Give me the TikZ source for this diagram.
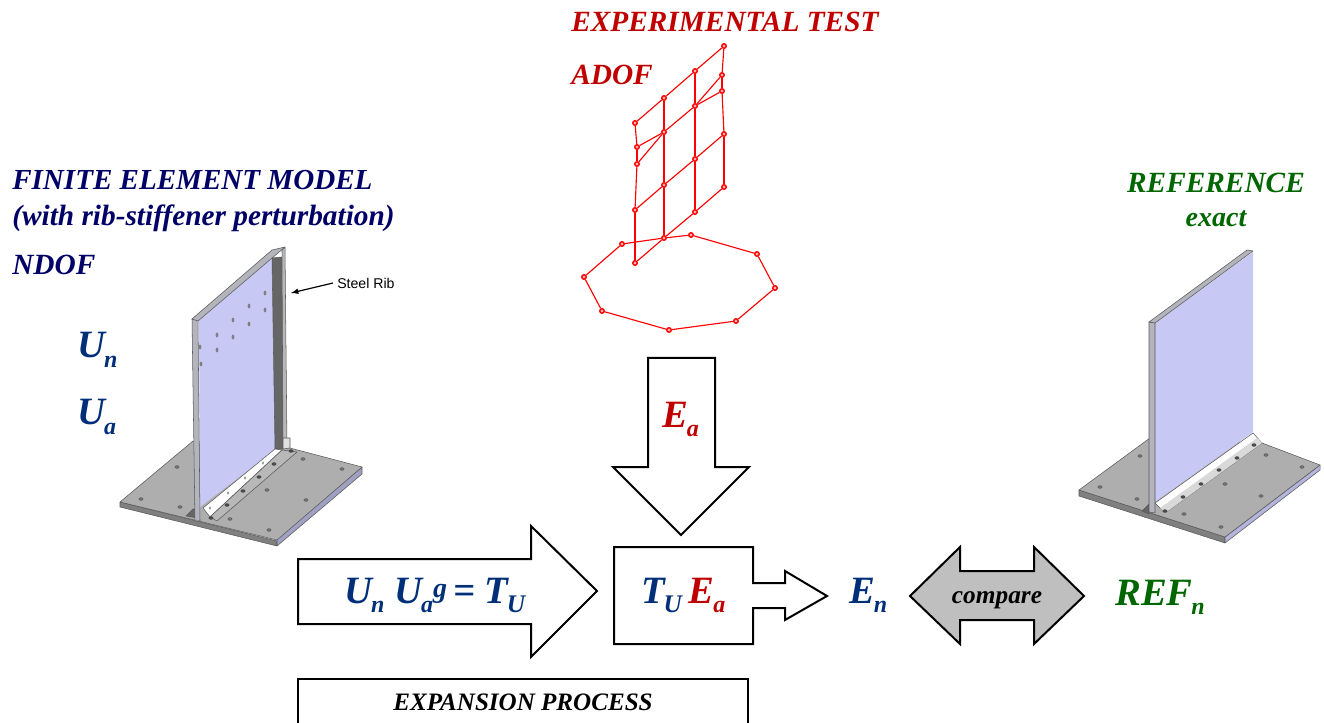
\documentclass[tikz,border=0pt]{standalone}
\usepackage{fontspec}
\setmainfont{Liberation Serif}
\newfontfamily\arialf{Liberation Sans}
\definecolor{navyt}{HTML}{000066}
\definecolor{blueu}{HTML}{002F7A}
\definecolor{redt}{HTML}{C00000}
\definecolor{greent}{HTML}{006600}
\definecolor{panel}{HTML}{C8C8F4}
\definecolor{plate}{HTML}{AEAEAE}
\definecolor{edgeg}{HTML}{B4B4BC}
\newcommand{\sz}[1]{\fontsize{#1}{#1}\selectfont}
\newcommand{\subs}[2]{\kern-0.03em\raisebox{-7pt}{\fontsize{#2}{#2}\selectfont #1}}
\tikzset{
  lab/.style={inner sep=0pt,font=\bfseries\itshape},
  labw/.style={lab,anchor=base west},
  labc/.style={lab,anchor=base},
  big/.style={labw,font=\bfseries\itshape\sz{29}},
  blockarrow/.style={draw=black,line width=1.5pt,fill=white,line join=miter},
  mp/.style={circle,draw=red,line width=1pt,fill=red!30,inner sep=0pt,minimum size=3.4pt},
  ml/.style={draw=red,line width=0.85pt},
  holept/.style={fill=black!55,draw=black!70,line width=0.2pt},
  boltpt/.style={fill=black!70,draw=black!80,line width=0.2pt},
  outl/.style={draw=black!65,line width=0.4pt,line join=round}
}
\begin{document}
\begin{tikzpicture}[x=0.75pt,y=-0.75pt]
\useasboundingbox (0,0) rectangle (1324,723);
% --- titles
\node[labw,text=redt,font=\bfseries\itshape\sz{22}] (t1) at (571,32) {EXPERIMENTAL TEST};
\node[labw,text=redt,font=\bfseries\itshape\sz{22}] (t2) at (571,85) {ADOF};
\node[labw,text=navyt,font=\bfseries\itshape\sz{21.8}] (t3) at (12,190) {FINITE ELEMENT MODEL};
\node[labw,text=navyt,font=\bfseries\itshape\sz{22}] (t4) at (12,226) {(with rib-stiffener perturbation)};
\node[labw,text=navyt,font=\bfseries\itshape\sz{22}] (t5) at (12,275) {NDOF};
\node[labc,text=greent,font=\bfseries\itshape\sz{22}] (t6) at (1216,193) {REFERENCE};
\node[labc,text=greent,font=\bfseries\itshape\sz{21}] (t7) at (1216,227) {exact};
\node[big,text=blueu] (un) at (77,358) {U\subs{n}{18}};
\node[big,text=blueu] (ua) at (77,425) {U\subs{a}{18}};
% --- left model
\fill[black!50,outl] (120,502) -- (120,507) -- (277,546) -- (277,541) -- cycle;
\fill[panel!80!black,outl] (277,546) -- (362,474) -- (362,467) -- (277,539) -- cycle;
\fill[plate,outl] (120,502) -- (193,441) -- (290,448) -- (362,467) -- (277,540) -- cycle;
\fill[panel] (199,320) -- (272,258) -- (275,450) -- (200,507) -- cycle;
\fill[black!60,outl] (186,516) -- (193,509) -- (197,509) -- (197,518) -- cycle;
\fill[edgeg,outl] (192,319) -- (198,319) -- (200,521) -- (195,521) -- cycle;
\fill[edgeg,outl] (192,319) -- (272,250) -- (285,247) -- (198,321) -- cycle;
\fill[black!60,outl] (272,258) -- (282,257) -- (283,449) -- (275,449) -- cycle;
\fill[black!28,outl] (282,250) -- (285,247) -- (287,447) -- (283,449) -- cycle;
\fill[black!12,outl] (283,438) -- (290,438) -- (290,448) -- (283,449) -- cycle;
\fill[white,outl] (203,508) -- (275,449) -- (282,450) -- (210,517) -- cycle;
\fill[black!28,outl] (210,517) -- (282,450) -- (297,452) -- (217,521) -- cycle;
\foreach \p in {(200,347),(201,364),(217,350),(217,335),(233,337),(233,320),(249,324),(249,306),(265,310),(265,293)}{
  \fill[black!50] \p ellipse (1.4 and 2.4);}
\foreach \p in {(177,467),(141,499),(180,507),(303,459),(342,469),(267,490),(306,500),(269,530),(230,519)}{
  \fill[holept] \p ellipse (2.2 and 1.4);}
\foreach \p in {(291,451),(274,464),(259,477),(243,491),(227,505),(211,518)}{
  \fill[boltpt] \p ellipse (2.2 and 1.4);}
\foreach \p in {(263,463),(245,478),(228,493),(210,508)}{
  \fill[black!40] \p ellipse (1.1 and 1.8);}
% --- right model
\fill[black!50,outl] (1079,490) -- (1079,496) -- (1225,543) -- (1225,537) -- cycle;
\fill[panel!90!black,outl] (1225,543) -- (1320,470) -- (1320,465) -- (1225,537) -- cycle;
\fill[plate,outl] (1079,490) -- (1150,438) -- (1262,443) -- (1320,465) -- (1225,537) -- cycle;
\fill[panel] (1155,323) -- (1253,252) -- (1253,432) -- (1155,502) -- cycle;
\fill[black!60,outl] (1142,511) -- (1149,504) -- (1149,514) -- cycle;
\fill[edgeg,outl] (1149,322) -- (1155,323) -- (1155,513) -- (1149,512) -- cycle;
\fill[edgeg,outl] (1149,322) -- (1247,250) -- (1253,251) -- (1155,323) -- cycle;
\fill[white,outl] (1155,503) -- (1253,433) -- (1262,443) -- (1165,513) -- cycle;
\fill[black!15] (1160,508) -- (1257,438) -- (1262,443) -- (1165,513) -- cycle;
\foreach \p in {(1140,456),(1100,487),(1137,499),(1266,455),(1302,467),(1225,484),(1261,496),(1184,514),(1221,527)}{
  \fill[holept] \p ellipse (2.2 and 1.4);}
\foreach \p in {(1165,511),(1183,497),(1201,484),(1219,470),(1237,458),(1254,445)}{
  \fill[boltpt] \p ellipse (2.2 and 1.4);}
% --- steel rib
\node[anchor=west,inner sep=0pt,font=\arialf\sz{10.6}] (rib) at (337,283) {Steel Rib};
\coordinate (ribtip) at (291,293);
\draw[-latex,line width=0.9pt] (rib.west) ++(-4,0) -- (ribtip);
% --- experimental mesh
\foreach \n/\x/\y in {a1/635/123,a2/664/98,a3/695/71,a4/724/46,b1/637/147,c1/637/164,d2/664/132,d3/695/106,b4/722/75,c4/722/91,
  e1/635/210,e2/664/185,e3/695/159,e4/724/134,f1/635/263,f2/664/238,f3/695/212,f4/724/187,
  g1/622/244,g2/584/277,g3/602/311,g4/669/330,g5/736/321,g6/775/288,g7/757/254,g8/691/235}{
  \node[mp] (\n) at (\x,\y) {};}
\foreach \s/\e in {a1/a2,a2/a3,a3/a4,a4/b4,b4/c4,c4/e4,e4/f4,f4/f3,f3/f2,f2/f1,f1/e1,e1/c1,c1/b1,b1/a1,
  e1/e2,e2/e3,e3/e4,c1/d2,b1/d2,d2/d3,d3/b4,d3/c4,a2/d2,d2/e2,e2/f2,a3/d3,d3/e3,e3/f3,
  f2/g1,g1/g2,g2/g3,g3/g4,g4/g5,g5/g6,g6/g7,g7/g8,g8/f2}{
  \draw[ml] (\s) -- (\e);}
% --- block arrows
\draw[blockarrow] (648,358) -- (715,358) -- (715,467) -- (749,467) -- (681,535) -- (613,467) -- (648,467) -- cycle;
\node[big,text=redt] (ea) at (662,427) {E\subs{a}{18}};
\draw[blockarrow] (298,559) -- (531,559) -- (531,526) -- (597,591) -- (531,657) -- (531,624) -- (298,624) -- cycle;
\node[big,text=blueu] (eq) at (344,603) {U\subs{n}{18}\kern7.5pt U\subs{a}{18}\raisebox{4.5pt}{\sz{21}g}\kern4.5pt=\kern7pt T\subs{U}{19}};
\draw[blockarrow] (614,547) -- (753,547) -- (753,583) -- (785,583) -- (785,571) -- (827,596) -- (785,620) -- (785,608) -- (753,608) -- (753,644) -- (614,644) -- cycle;
\node[big] (teq) at (641,603) {\textcolor{blueu}{T\subs{U}{19}}\kern5pt\textcolor{redt}{E\subs{a}{18}}};
\node[big,text=blueu] (en) at (849,603) {E\subs{n}{18}};
\draw[blockarrow,fill=black!25] (910,596) -- (960,547) -- (960,571) -- (1034,571) -- (1034,547) -- (1084,596) -- (1034,644) -- (1034,620) -- (960,620) -- (960,644) -- cycle;
\node[labc,font=\bfseries\itshape\sz{19}] (cmp) at (997,603) {compare};
\node[big,text=greent] (refn) at (1115,605) {REF\subs{n}{18}};
\draw[blockarrow] (298,730) -- (298,679) -- (748,679) -- (748,730);
\node[labc,font=\bfseries\itshape\sz{18.8}] (exp) at (523,710) {EXPANSION PROCESS};
\end{tikzpicture}
\end{document}
